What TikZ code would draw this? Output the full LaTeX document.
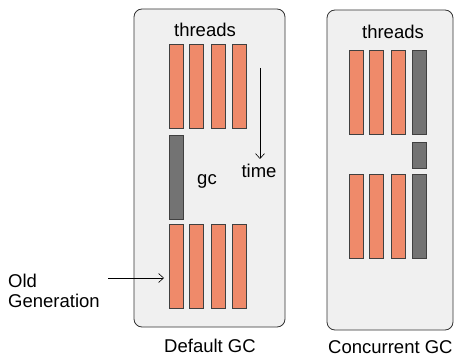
\documentclass[tikz,border=0pt]{standalone}
\usepackage{fontspec}
\usetikzlibrary{arrows.meta}
\setmainfont{Liberation Sans}
\begin{document}
\begin{tikzpicture}[x=1pt,y=-1pt,
  panel/.style={draw=black!80,fill=black!6,rounded corners=8pt,line width=0.8pt},
  obar/.style={draw=black!75,line width=0.6pt},
  gbar/.style={draw=black!75,fill=black!55,line width=0.6pt},
  lbl/.style={font=\fontsize{18.5}{20}\selectfont,inner sep=0pt,anchor=base},
  arr/.style={-{Straight Barb[length=5pt,width=9pt]},line width=0.6pt}]
\useasboundingbox (0,0) rectangle (460,358);
\definecolor{obarc}{HTML}{EF8A6A}
\tikzset{obar/.append style={fill=obarc}}
% left panel
\draw[panel] (134,9) rectangle (285,327);
\node[lbl] (t1) at (205,37) {threads};
\foreach \x [count=\i] in {169,189,211,232}{
  \draw[obar] (\x,44) rectangle ++(14,84);
  \draw[obar] (\x,224) rectangle ++(14,84);
}
\draw[gbar] (169,135) rectangle (183,219);
\node[lbl] (gc) at (207,185) {gc};
\coordinate (ts) at (260,68);
\coordinate (te) at (260,159);
\draw[arr] (ts) -- (te);
\node[lbl] (time) at (259,178) {time};
\node[lbl] (dgc) at (210,352) {Default GC};
% old generation
\node[lbl,anchor=base west] (old) at (8,287) {Old};
\node[lbl,anchor=base west] (gen) at (8,307) {Generation};
\coordinate (oa) at (108,278);
\coordinate (ob) at (164,278);
\draw[arr] (oa) -- (ob);
% right panel
\draw[panel] (327,10) rectangle (453,330);
\node[lbl] (t2) at (393,39) {threads};
\foreach \x in {349,369,391}{
  \draw[obar] (\x,50) rectangle ++(14,84);
  \draw[obar] (\x,174) rectangle ++(14,84);
}
\draw[gbar] (412,50) rectangle ++(14,84);
\draw[gbar] (412,142) rectangle ++(14,26);
\draw[gbar] (412,174) rectangle ++(14,84);
\node[lbl,anchor=base west] (cgc) at (328,353) {Concurrent GC};
\end{tikzpicture}
\end{document}
